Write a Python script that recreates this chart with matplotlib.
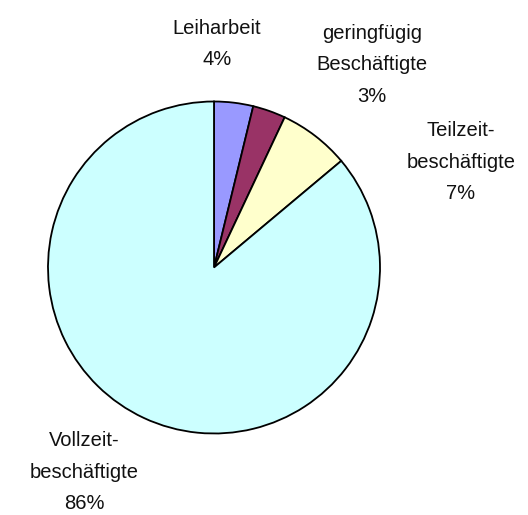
import matplotlib
matplotlib.use("Agg")
import matplotlib.pyplot as plt

labels = ["Leiharbeit", "geringfügig\nBeschäftigte", "Teilzeit-\nbeschäftigte", "Vollzeit-\nbeschäftigte"]
shares = [3.8, 3.2, 6.9, 86.1]
pct_text = ["4%", "3%", "7%", "86%"]
colors = ["#9999FF", "#993366", "#FFFFCC", "#CCFFFF"]

# label block centres in pixel coordinates (x, y from top)
label_pos = [(217, 44), (372, 65), (461, 162), (84, 472)]

W, H = 528, 515
fig = plt.figure(figsize=(W / 100, H / 100), dpi=100)
ax = fig.add_axes([0, 0, 1, 1])

ax.pie(
    shares,
    colors=colors,
    startangle=90,
    counterclock=False,
    center=(214, H - 267.5),
    radius=166,
    wedgeprops=dict(edgecolor="black", linewidth=1.3),
    frame=True,
)
ax.set_xlim(0, W)
ax.set_ylim(0, H)
ax.set_aspect("equal")
ax.axis("off")

for lab, pct, (x, y) in zip(labels, pct_text, label_pos):
    ax.text(
        x, H - y, f"{lab}\n{pct}",
        ha="center", va="center", multialignment="center",
        fontsize=14.5, family="Liberation Sans", linespacing=1.85,
        color="#111111",
    )

fig.savefig("out.png", dpi=100, facecolor="white")
